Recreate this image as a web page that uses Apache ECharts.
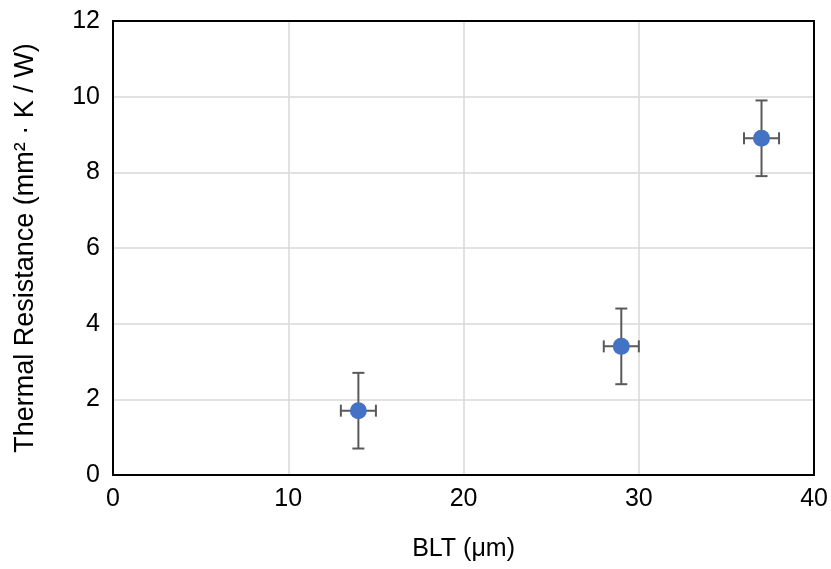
<!DOCTYPE html>
<html><head><meta charset="utf-8">
<script src="https://cdn.jsdelivr.net/npm/echarts@6/dist/echarts.min.js"></script>
<style>html,body{margin:0;padding:0;background:#fff}#c{width:831px;height:569px}</style>
</head><body><div id="c"></div>
<script>
const blt = [14, 29, 37];
const resistance = [1.7, 3.4, 8.9];
const xErr = [1, 1, 1];
const yErr = [1, 1, 1];
const xTicks = [0, 10, 20, 30, 40];
const yTicks = [0, 2, 4, 6, 8, 10, 12];

const font = '"Liberation Sans", Arial, Helvetica, sans-serif';
const chart = echarts.init(document.getElementById('c'));
const pts = blt.map((x, i) => [x, resistance[i], xErr[i], yErr[i]]);
const xMin = xTicks[0], xMax = xTicks[xTicks.length - 1];
const yMin = yTicks[0], yMax = yTicks[yTicks.length - 1];
const border = { show: true, onZero: false, lineStyle: { color: '#000', width: 2 } };

chart.setOption({
  animation: false,
  grid: { left: 113, right: 16, top: 21, bottom: 94 },
  xAxis: [{
    type: 'value', min: xMin, max: xMax, interval: 10,
    name: 'BLT (μm)', nameLocation: 'middle', nameGap: 62,
    nameTextStyle: { fontFamily: font, fontSize: 25, color: '#000' },
    axisLine: border, axisTick: { show: false },
    axisLabel: { fontFamily: font, fontSize: 25, color: '#000', margin: 12 },
    splitLine: { lineStyle: { color: '#d9d9d9', width: 1.5 } }
  }, {
    type: 'value', position: 'top', min: xMin, max: xMax, interval: 10,
    axisLine: border, axisTick: { show: false }, axisLabel: { show: false }, splitLine: { show: false }
  }],
  yAxis: [{
    type: 'value', min: yMin, max: yMax, interval: 2,
    name: 'Thermal Resistance (mm² · K / W)', nameLocation: 'middle', nameGap: 74,
    nameTextStyle: { fontFamily: font, fontSize: 27, color: '#000' },
    axisLine: border, axisTick: { show: false },
    axisLabel: { fontFamily: font, fontSize: 25, color: '#000', margin: 13 },
    splitLine: { lineStyle: { color: '#d9d9d9', width: 1.5 } }
  }, {
    type: 'value', position: 'right', min: yMin, max: yMax, interval: 2,
    axisLine: border, axisTick: { show: false }, axisLabel: { show: false }, splitLine: { show: false }
  }],
  series: [
    {
      type: 'custom',
      data: pts,
      z: 2,
      renderItem: function (params, api) {
        const x = api.value(0), y = api.value(1), ex = api.value(2), ey = api.value(3);
        const top = api.coord([x, y + ey]);
        const bot = api.coord([x, y - ey]);
        const lft = api.coord([x - ex, y]);
        const rgt = api.coord([x + ex, y]);
        const cap = 6;
        const st = { stroke: '#595959', lineWidth: 2 };
        return {
          type: 'group',
          children: [
            { type: 'line', shape: { x1: top[0], y1: top[1], x2: bot[0], y2: bot[1] }, style: st },
            { type: 'line', shape: { x1: top[0] - cap, y1: top[1], x2: top[0] + cap, y2: top[1] }, style: st },
            { type: 'line', shape: { x1: bot[0] - cap, y1: bot[1], x2: bot[0] + cap, y2: bot[1] }, style: st },
            { type: 'line', shape: { x1: lft[0], y1: lft[1], x2: rgt[0], y2: rgt[1] }, style: st },
            { type: 'line', shape: { x1: lft[0], y1: lft[1] - cap, x2: lft[0], y2: lft[1] + cap }, style: st },
            { type: 'line', shape: { x1: rgt[0], y1: rgt[1] - cap, x2: rgt[0], y2: rgt[1] + cap }, style: st }
          ]
        };
      }
    },
    {
      type: 'scatter',
      data: pts.map(p => [p[0], p[1]]),
      symbol: 'circle', symbolSize: 17, z: 3,
      itemStyle: { color: '#4472c4', opacity: 1 }
    }
  ]
});
</script></body></html>
